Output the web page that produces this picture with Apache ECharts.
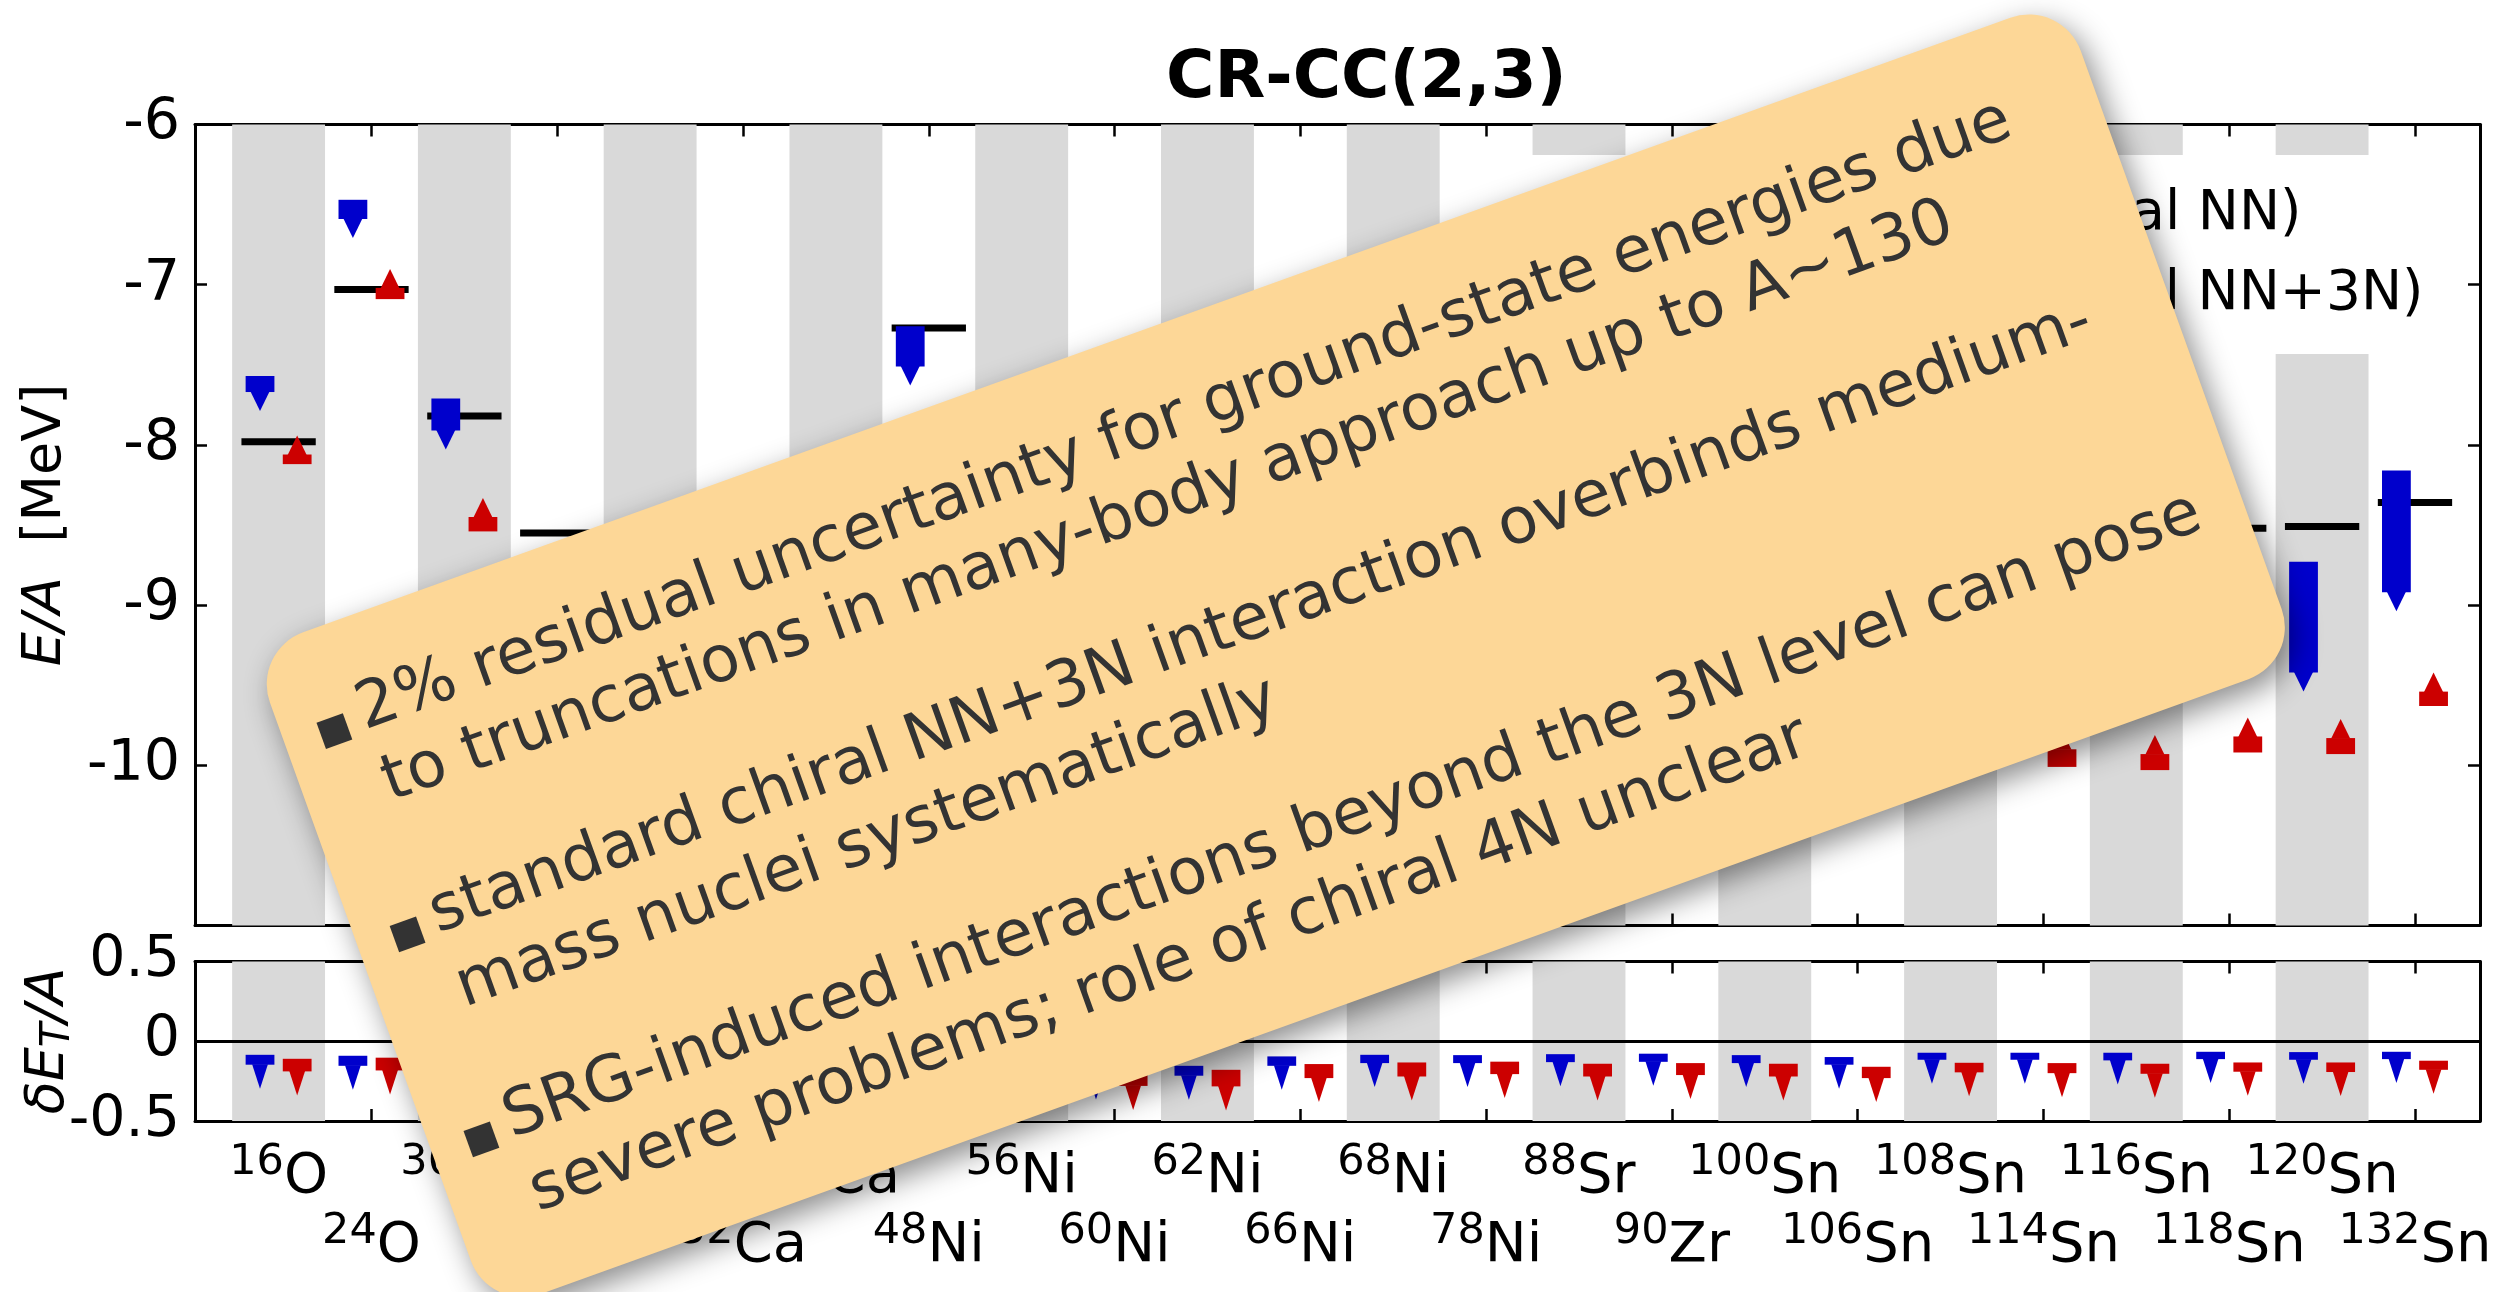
<!DOCTYPE html>
<html>
<head>
<meta charset="utf-8">
<title>CR-CC(2,3)</title>
<script src="https://cdn.jsdelivr.net/npm/echarts@6.0.0/dist/echarts.min.js"></script>
<style>
html, body { margin:0; padding:0; background:#ffffff; }
#chart { width:2520px; height:1292px; }
</style>
</head>
<body>
<div id="chart"></div>
<script>
// ---------------- data ----------------
const massNumbers = ['16','24','36','40','48','52','54','48','56','60','62','66','68','78','88','90','100','106','108','114','116','118','120','132'];
const elements    = ['O','O','Ca','Ca','Ca','Ca','Ca','Ni','Ni','Ni','Ni','Ni','Ni','Ni','Sr','Zr','Sn','Sn','Sn','Sn','Sn','Sn','Sn','Sn'];
const positions   = [1,2,3,4,5,6,7,8,9,10,11,12,13,14,15,16,17,18,19,20,21,22,23,24];

// experiment E/A [MeV]
const expEA    = [-7.98,-7.03,-7.82,-8.55,-8.67,-8.43,-8.28,-7.27,-8.64,-8.78,-8.79,-8.74,-8.68,-8.24,-8.73,-8.71,-8.25,-8.43,-8.47,-8.52,-8.52,-8.52,-8.51,-8.36];
// CR-CC(2,3), chiral NN (blue): range top / bottom [MeV]
const nnTop    = [-7.57,-6.47,-7.71,-8.70,-8.70,-8.45,-8.20,-7.26,-8.20,-8.35,-8.40,-8.45,-8.45,-8.10,-8.70,-8.70,-8.40,-8.60,-8.60,-8.70,-8.70,-8.65,-8.73,-8.16];
const nnBottom = [-7.67,-6.59,-7.91,-8.95,-9.05,-8.80,-8.60,-7.51,-8.55,-8.75,-8.85,-8.95,-8.95,-8.65,-9.30,-9.30,-9.00,-9.20,-9.25,-9.35,-9.35,-9.30,-9.42,-8.92];
// CR-CC(2,3), chiral NN+3N (red): range top / bottom [MeV]
const n3Top    = [-8.06,-7.02,-8.45,-9.00,-9.10,-8.95,-8.85,-8.00,-9.25,-9.45,-9.50,-9.50,-9.50,-9.10,-9.90,-9.95,-9.60,-9.80,-9.85,-9.90,-9.93,-9.82,-9.83,-9.54];
const n3Bottom = [-8.12,-7.09,-8.54,-9.10,-9.20,-9.05,-8.95,-8.10,-9.35,-9.55,-9.60,-9.60,-9.60,-9.20,-10.00,-10.05,-9.70,-9.90,-9.95,-10.01,-10.03,-9.92,-9.93,-9.63];
// triples correction dE_T/A [MeV]
const dtNNTop    = [-0.085,-0.091,-0.09,-0.10,-0.10,-0.10,-0.10,-0.11,-0.13,-0.15,-0.154,-0.095,-0.085,-0.087,-0.081,-0.078,-0.087,-0.099,-0.072,-0.072,-0.072,-0.066,-0.068,-0.066];
const dtNNBottom = [-0.147,-0.154,-0.15,-0.16,-0.16,-0.16,-0.16,-0.17,-0.20,-0.215,-0.216,-0.154,-0.137,-0.137,-0.131,-0.129,-0.137,-0.147,-0.116,-0.116,-0.120,-0.112,-0.116,-0.112];
const dtN3Top    = [-0.110,-0.103,-0.11,-0.13,-0.14,-0.14,-0.14,-0.15,-0.16,-0.18,-0.179,-0.143,-0.133,-0.128,-0.141,-0.137,-0.141,-0.160,-0.135,-0.137,-0.141,-0.133,-0.133,-0.122];
const dtN3Bottom = [-0.189,-0.183,-0.19,-0.21,-0.22,-0.22,-0.22,-0.24,-0.25,-0.28,-0.283,-0.231,-0.221,-0.206,-0.221,-0.212,-0.221,-0.231,-0.195,-0.200,-0.204,-0.191,-0.193,-0.179];

const legendLabels = ['NN+3N-ind (chiral NN)', 'NN+3N-full (chiral NN+3N)'];
const noteLines = [
  '2% residual uncertainty for ground-state energies due',
  'to truncations in many-body approach up to A~130',
  'standard chiral NN+3N interaction overbinds medium-',
  'mass nuclei systematically',
  'SRG-induced interactions beyond the 3N level can pose',
  'severe problems; role of chiral 4N unclear'
];

// ---------------- styling ----------------
const FONT = '"DejaVu Sans", sans-serif';
const BLUE = '#0000cc', RED = '#cc0000', BAND = '#d9d9d9';
const X_MIN = 0.1, X_MAX = 24.7;

const bandPositions = positions.filter(p => p % 2 === 1);
const upperRow = positions.filter(p => p % 2 === 1);
const lowerRow = positions.filter(p => p % 2 === 0);

function bandItem(params, api) {
  const x = api.value(0);
  const l = api.coord([x - 0.5, 0])[0];
  const r = api.coord([x + 0.5, 0])[0];
  const cs = params.coordSys;
  return { type: 'rect', shape: { x: l, y: cs.y, width: r - l, height: cs.height }, style: { fill: BAND } };
}
function expItem(params, api) {
  const x = api.value(0), v = api.value(1);
  const a = api.coord([x - 0.4, v]), b = api.coord([x + 0.4, v]);
  return { type: 'line', shape: { x1: a[0], y1: a[1], x2: b[0], y2: b[1] }, style: { stroke: '#000', lineWidth: 7 } };
}
function arrowRenderer(dx, dir, color, triW, triH) {
  return function (params, api) {
    const x = api.value(0), a = api.value(1), b = api.value(2);
    const unit = api.size([1, 0])[0];
    const p1 = api.coord([x + dx, a]), p2 = api.coord([x + dx, b]);
    const top = Math.min(p1[1], p2[1]), bot = Math.max(p1[1], p2[1]);
    const cx = p1[0], w = 0.31 * unit, tw = triW * unit;
    const tri = dir === 'down'
      ? [[cx - tw / 2, bot - 0.5], [cx + tw / 2, bot - 0.5], [cx, bot + triH]]
      : [[cx - tw / 2, top + 0.5], [cx + tw / 2, top + 0.5], [cx, top - triH]];
    return { type: 'group', children: [
      { type: 'rect', shape: { x: cx - w / 2, y: top, width: w, height: Math.max(bot - top, 1) }, style: { fill: color } },
      { type: 'polygon', shape: { points: tri }, style: { fill: color } }
    ] };
  };
}

const labelRich = {
  s: { fontSize: 43, lineHeight: 35, verticalAlign: 'top', fontFamily: FONT, color: '#000' },
  e: { fontSize: 56, lineHeight: 64, verticalAlign: 'bottom', fontFamily: FONT, color: '#000' }
};
function nucLabel(v) {
  const i = Math.round(v) - 1;
  return '{s|' + massNumbers[i] + '}{e|' + elements[i] + '}';
}

function xAx(grid, pos, labelValues, margin, showLine) {
  return {
    type: 'value', gridIndex: grid, position: pos, min: X_MIN, max: X_MAX,
    splitLine: { show: false },
    axisLine: { show: showLine, onZero: false, lineStyle: { color: '#000', width: 3 } },
    axisTick: { show: showLine, inside: true, length: 12, customValues: positions, lineStyle: { color: '#000', width: 2.5 } },
    axisLabel: labelValues ? {
      show: true, customValues: labelValues, margin: margin, color: '#000', fontFamily: FONT, fontSize: 56,
      showMinLabel: true, showMaxLabel: true, hideOverlap: false,
      formatter: nucLabel, rich: labelRich
    } : { show: false }
  };
}
function yAx(grid, pos, min, max, interval, labels) {
  return {
    type: 'value', gridIndex: grid, position: pos, min: min, max: max, interval: interval,
    splitLine: { show: false },
    axisLine: { show: true, onZero: false, lineStyle: { color: '#000', width: 3 } },
    axisTick: { inside: true, length: 12, lineStyle: { color: '#000', width: 2.5 } },
    axisLabel: labels ? { show: true, margin: 15, color: '#000', fontFamily: FONT, fontSize: 57,
      padding: [13, 0, 0, 0], showMinLabel: grid === 0 ? false : true, showMaxLabel: true } : { show: false }
  };
}

const idx = positions.map((p, i) => i);
const ROT = 19.8 * Math.PI / 180;
const option = {
  backgroundColor: '#ffffff',
  animation: false,
  title: {
    text: 'CR-CC(2,3)', left: 1166, top: 47, padding: 0,
    textStyle: { fontFamily: FONT, fontWeight: 'bold', fontSize: 66, color: '#000' }
  },
  grid: [
    { left: 195, top: 124.5, width: 2285, height: 801, outerBoundsMode: 'none', containLabel: false },
    { left: 195, top: 961.5, width: 2285, height: 159.5, outerBoundsMode: 'none', containLabel: false }
  ],
  xAxis: [
    xAx(0, 'bottom', null, 0, true),
    xAx(0, 'top', null, 0, true),
    xAx(1, 'bottom', upperRow, 20, true),
    xAx(1, 'top', null, 0, true),
    xAx(1, 'bottom', lowerRow, 89, false)
  ],
  yAxis: [ yAx(0, 'left', -11, -6, 1, true), yAx(0, 'right', -11, -6, 1, false),
           yAx(1, 'left', -0.5, 0.5, 0.5, true), yAx(1, 'right', -0.5, 0.5, 0.5, false) ],
  series: [
    { type: 'custom', name: 'bands', xAxisIndex: 0, yAxisIndex: 0, z: 1, silent: true,
      data: bandPositions.map(p => [p]), renderItem: bandItem },
    { type: 'custom', name: 'bands2', xAxisIndex: 2, yAxisIndex: 2, z: 1, silent: true,
      data: bandPositions.map(p => [p]), renderItem: bandItem },
    { type: 'custom', name: 'experiment', xAxisIndex: 0, yAxisIndex: 0, z: 3,
      data: idx.map(i => [positions[i], expEA[i]]), renderItem: expItem },
    { type: 'custom', name: legendLabels[0], xAxisIndex: 0, yAxisIndex: 0, z: 4,
      data: idx.map(i => [positions[i], nnTop[i], nnBottom[i]]), renderItem: arrowRenderer(-0.2, 'down', BLUE, 0.205, 19) },
    { type: 'custom', name: legendLabels[1], xAxisIndex: 0, yAxisIndex: 0, z: 4,
      data: idx.map(i => [positions[i], n3Top[i], n3Bottom[i]]), renderItem: arrowRenderer(0.2, 'up', RED, 0.205, 19) },
    { type: 'custom', name: 'dT NN', xAxisIndex: 2, yAxisIndex: 2, z: 4,
      data: idx.map(i => [positions[i], dtNNTop[i], dtNNBottom[i]]), renderItem: arrowRenderer(-0.2, 'down', BLUE, 0.17, 24),
      markLine: { silent: true, symbol: 'none', label: { show: false }, lineStyle: { color: '#000', width: 3, type: 'solid' }, data: [{ yAxis: 0 }] } },
    { type: 'custom', name: 'dT NN+3N', xAxisIndex: 2, yAxisIndex: 2, z: 4,
      data: idx.map(i => [positions[i], dtN3Top[i], dtN3Bottom[i]]), renderItem: arrowRenderer(0.2, 'down', RED, 0.17, 24) }
  ],
  graphic: [
    { type: 'text', x: 46, y: 525, rotation: Math.PI / 2, z: 5,
      style: { text: '{it|E/A}  [MeV]', fontFamily: FONT, fontSize: 54, fill: '#000', align: 'center', verticalAlign: 'middle',
        rich: { it: { fontStyle: 'italic', fontFamily: FONT, fontSize: 54 } } } },
    { type: 'text', x: 49, y: 1041, rotation: Math.PI / 2, z: 5,
      style: { text: '{it|δE}{sub|T}{it|/A}', fontFamily: FONT, fontSize: 54, fill: '#000', align: 'center', verticalAlign: 'middle',
        rich: { it: { fontStyle: 'italic', fontFamily: FONT, fontSize: 54, lineHeight: 60 },
                sub: { fontStyle: 'italic', fontFamily: FONT, fontSize: 40, lineHeight: 26, verticalAlign: 'bottom' } } } },
    // legend box
    { type: 'rect', z: 10, shape: { x: 1495, y: 155, width: 973, height: 199 }, style: { fill: '#ffffff' } },
    { type: 'text', z: 11, x: 1680, y: 215, style: { text: legendLabels[0], fontFamily: FONT, fontSize: 55, fill: '#000', align: 'left', verticalAlign: 'middle' } },
    { type: 'text', z: 11, x: 1680, y: 295, style: { text: legendLabels[1], fontFamily: FONT, fontSize: 55, fill: '#000', align: 'left', verticalAlign: 'middle' } },
    // note overlay
    { type: 'group', x: 1276.5, y: 655.5, rotation: ROT, z: 100,
      children: (function () {
        const ch = [{ type: 'rect', z: 100, shape: { x: -963, y: -351.5, width: 1924.5, height: 703, r: 55 },
          style: { fill: '#fdd797', shadowBlur: 30, shadowColor: 'rgba(0,0,0,0.45)', shadowOffsetX: 8, shadowOffsetY: 10 } }];
        const baselines = [-234, -158, -18, 61, 200, 278];
        noteLines.forEach(function (t, i) {
          ch.push({ type: 'text', z: 101, x: -883, y: baselines[i] - 22,
            style: { text: t, fontFamily: FONT, fontSize: 64.5, fill: '#333333', align: 'left', verticalAlign: 'middle' } });
          if (i % 2 === 0) {
            ch.push({ type: 'rect', z: 101, shape: { x: -912 - 14, y: baselines[i] - 14 - 14, width: 28, height: 28 }, style: { fill: '#333333' } });
          }
        });
        return ch;
      })() }
  ]
};

const chart = echarts.init(document.getElementById('chart'), null, { renderer: 'canvas', width: 2520, height: 1292 });
chart.setOption(option);
</script>
</body>
</html>
